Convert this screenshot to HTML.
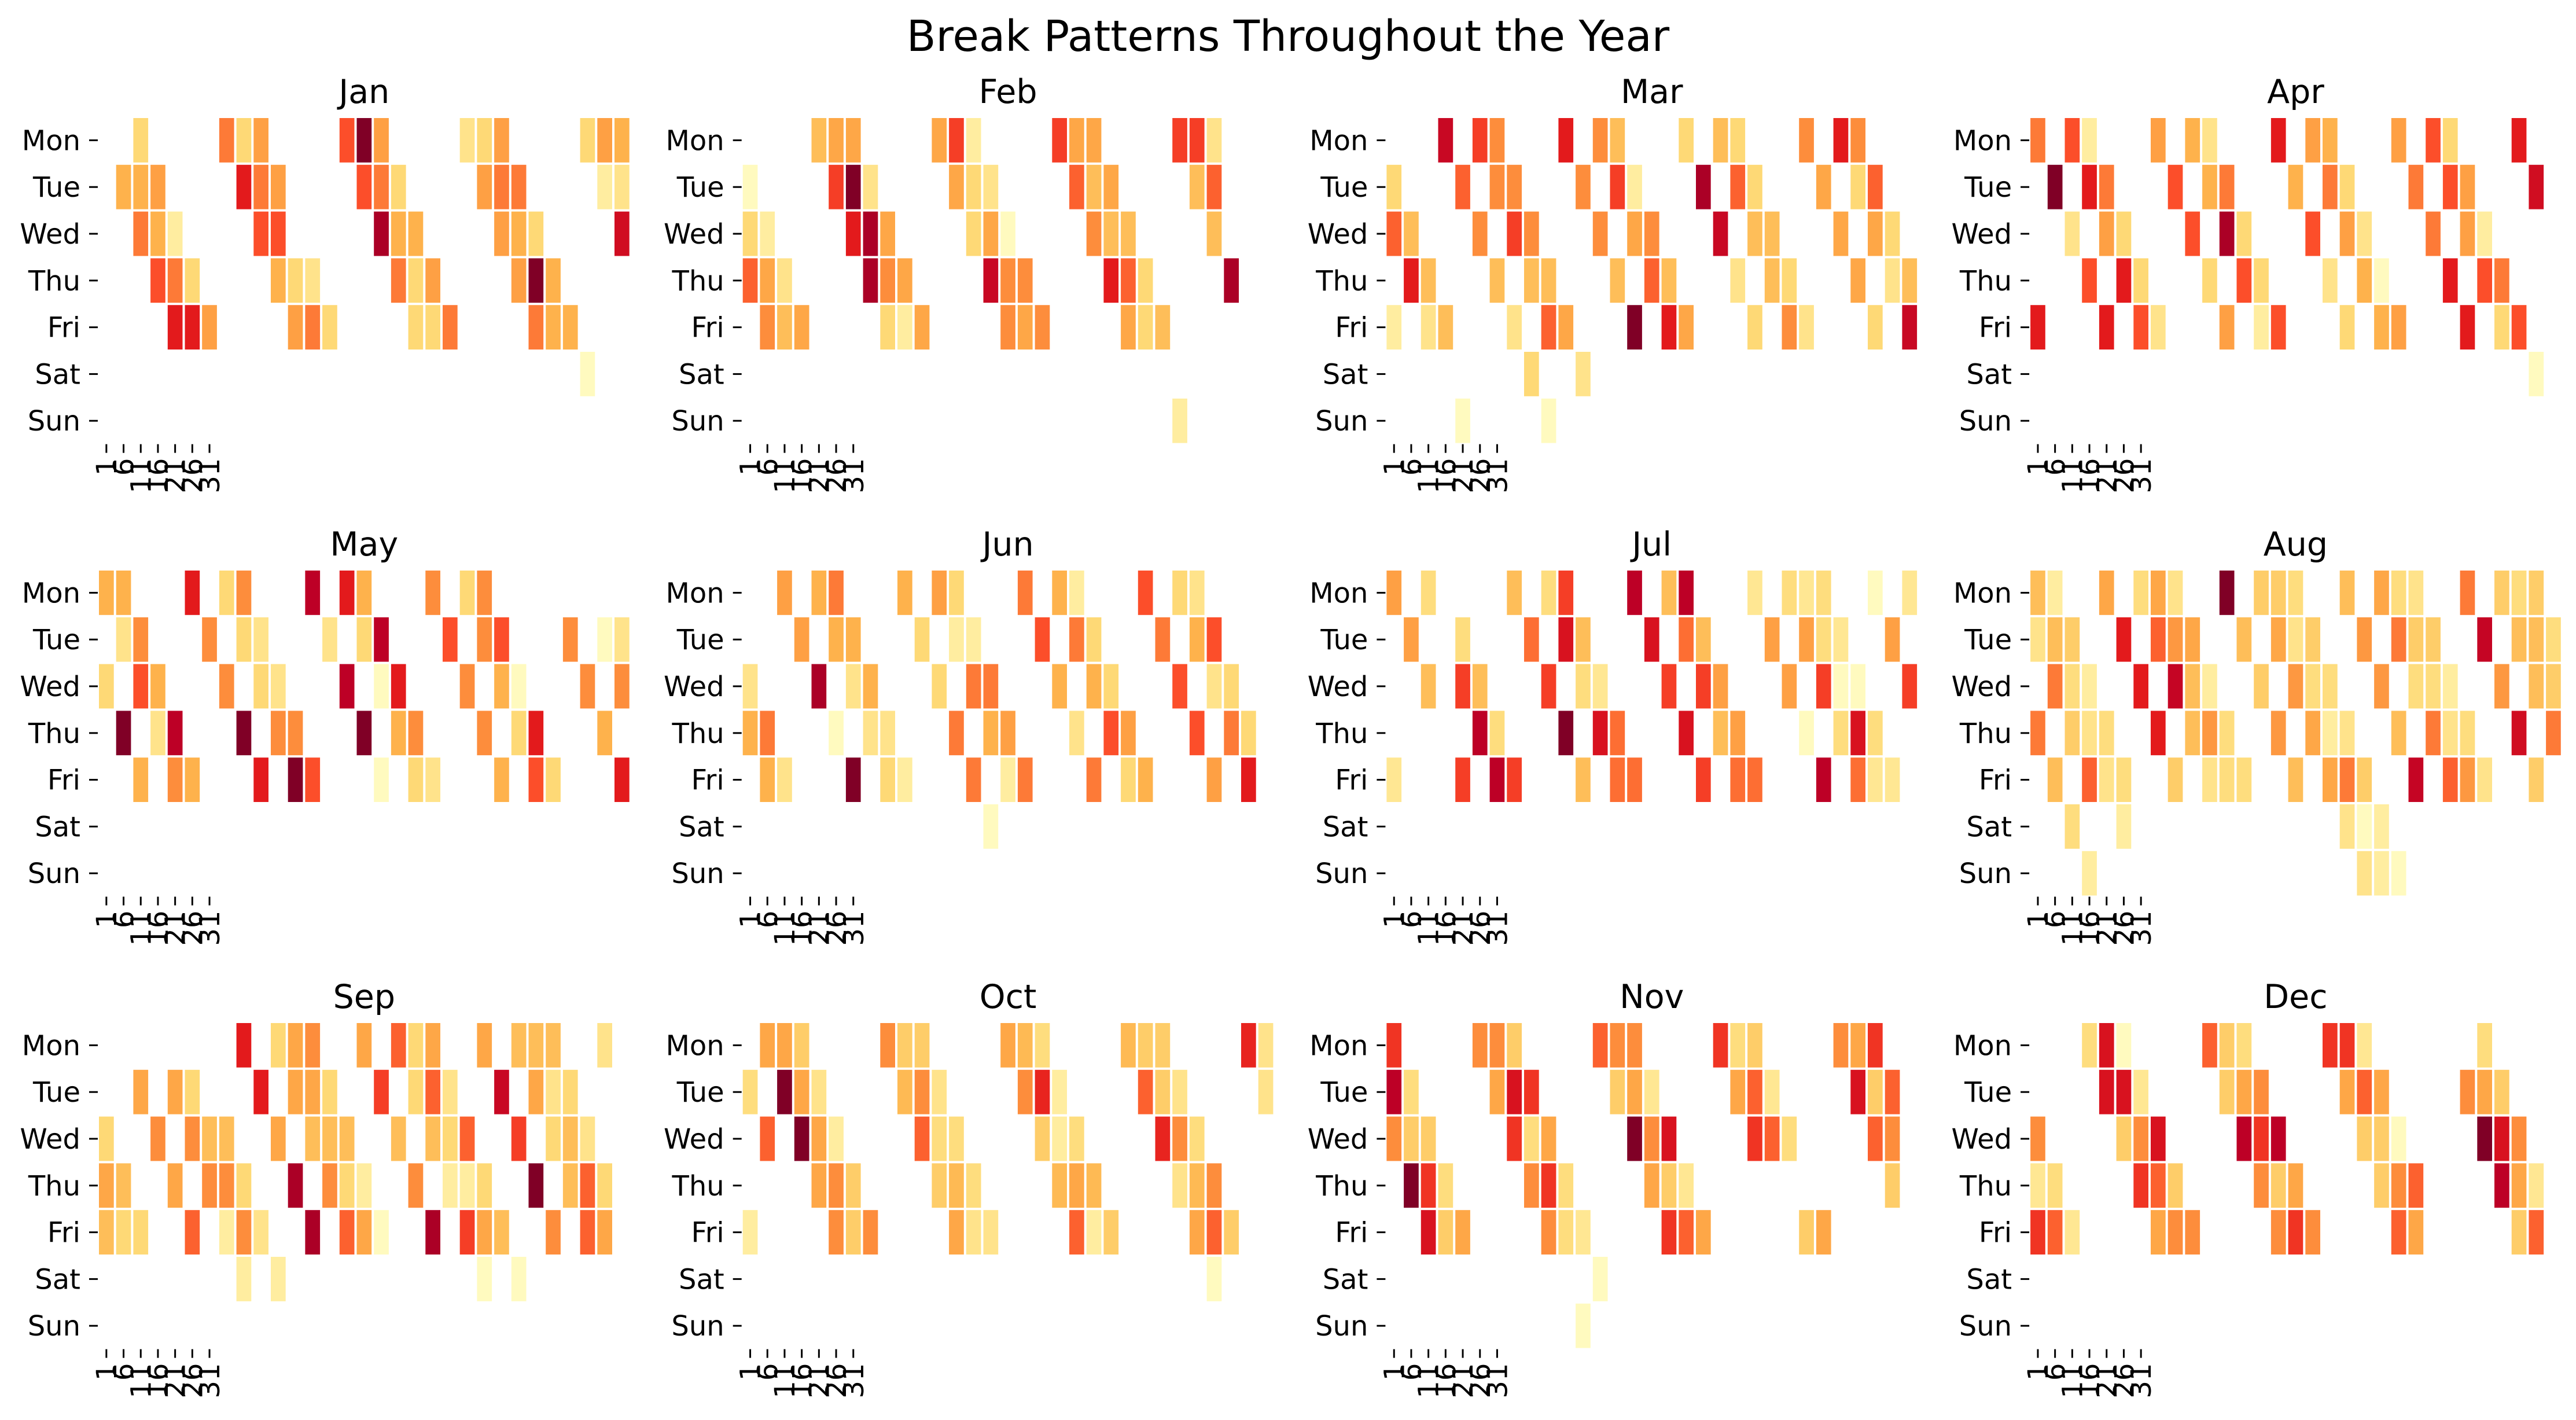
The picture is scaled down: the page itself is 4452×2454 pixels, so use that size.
<!DOCTYPE html>
<html>
<head>
<meta charset="utf-8">
<style>
  html, body { margin: 0; padding: 0; background: #ffffff; }
  svg { display: block; }
  text { font-family: "DejaVu Sans", "Liberation Sans", sans-serif; fill: #000; }
</style>
</head>
<body>
<svg id="chart" xmlns="http://www.w3.org/2000/svg" width="4452" height="2454" viewBox="0 0 4452 2454">
  <rect x="0" y="0" width="4452" height="2454" fill="#ffffff"></rect>
  <text x="2226" y="88" font-size="74" text-anchor="middle">Break Patterns Throughout the Year</text>
</svg>
<script>
// ---- data: per month, per weekday (Mon..Sun) list of [dayIndex(0-based), value 0..8] ----
const monthNames = ["Jan","Feb","Mar","Apr","May","Jun","Jul","Aug","Sep","Oct","Nov","Dec"];
const weekdays = ["Mon","Tue","Wed","Thu","Fri","Sat","Sun"];
const dayTickLabels = ["1","6","11","16","21","26","31"];

const jan = [
  [[2,2],[7,4.3],[8,2],[9,3.5],[14,5],[15,8],[16,3.5],[21,1.5],[22,2],[23,3.5],[28,2],[29,3.5],[30,3]],
  [[1,3],[2,3],[3,3.5],[8,6],[9,4.3],[10,3.5],[15,5],[16,4.3],[17,2],[22,3.5],[23,4.3],[24,4.3],[29,1],[30,1.5]],
  [[2,4.3],[3,3],[4,1],[9,5],[10,5],[16,7.3],[17,3],[18,3],[23,3.5],[24,3],[25,2],[30,6.5]],
  [[3,5],[4,4.3],[5,2],[10,3],[11,2],[12,1.5],[17,4.3],[18,2],[19,3.5],[24,3.5],[25,8],[26,3]],
  [[4,6],[5,6],[6,3.5],[11,3.5],[12,4.3],[13,2],[18,2],[19,2],[20,4.3],[25,4.3],[26,3],[27,3]],
  [[28,0.3]],
  []
];
const feb = [
  [[4,2.7],[5,3.3],[6,3.3],[11,3.3],[12,5.3],[13,1],[18,5.3],[19,3.3],[20,3.3],[25,5.3],[26,5.3],[27,1.5]],
  [[0,0.3],[5,5.3],[6,8],[7,1.5],[12,3.3],[13,2],[14,1.5],[19,4.7],[20,2.7],[21,3.3],[26,2.7],[27,4.7]],
  [[0,2],[1,1],[6,6],[7,7.3],[8,3.3],[13,2],[14,3.3],[15,0.3],[20,4],[21,2.7],[22,2.7],[27,2.7]],
  [[0,4.7],[1,3.3],[2,1.5],[7,7.3],[8,4],[9,3.3],[14,6.7],[15,4],[16,4],[21,6],[22,4.7],[23,2],[28,7.3]],
  [[1,4],[2,2.7],[3,3.3],[8,2],[9,1],[10,3.3],[15,4],[16,3.3],[17,4],[22,3.3],[23,2],[24,2.7]],
  [],
  [[25,1]]
];
const mar = [
  [[3,6.7],[5,5.3],[6,4],[10,6],[12,4],[13,2.7],[17,2],[19,2.7],[20,2],[24,4],[26,6],[27,4]],
  [[0,2],[4,4.7],[6,4],[7,4],[11,4],[13,5.3],[14,1],[18,7.3],[20,4.7],[21,2],[25,3.3],[27,2],[28,4.7]],
  [[0,4.7],[1,2.7],[5,4],[7,5.3],[8,4],[12,4],[14,3.3],[15,4],[19,6.7],[21,2.7],[22,2.7],[26,3.3],[28,3.3],[29,2]],
  [[1,6],[2,2.7],[6,2.7],[8,2.7],[9,2.7],[13,2.7],[15,4.7],[16,2.7],[20,1.5],[22,2.7],[23,2],[27,3.3],[29,1.5],[30,2.7]],
  [[0,1],[2,1.5],[3,2.7],[7,1.5],[9,4.7],[10,3.3],[14,8],[16,6],[17,3.3],[21,2],[23,4],[24,1.5],[28,2],[30,6.7]],
  [[8,2],[11,1.5]],
  [[4,0.3],[9,0.3]]
];
const apr = [
  [[0,4.3],[2,5],[3,1],[7,3.5],[9,3],[10,1.5],[14,6],[16,3.5],[17,3],[21,3.5],[23,5],[24,2],[28,6]],
  [[1,8],[3,6],[4,4.3],[8,5],[10,3],[11,4.3],[15,3],[17,4.3],[18,2],[22,4.3],[24,5],[25,3.5],[29,6.5]],
  [[2,1.5],[4,3.5],[5,2],[9,5],[11,7.3],[12,2],[16,5],[18,3.5],[19,1.5],[23,4.3],[25,3.5],[26,1]],
  [[3,5],[5,6],[6,2],[10,2],[12,5],[13,2],[17,1.5],[19,3],[20,0.3],[24,6],[26,5],[27,4.3]],
  [[0,6],[4,6],[6,5],[7,1.5],[11,3.5],[13,1],[14,5],[18,2],[20,3],[21,3.5],[25,6],[27,2],[28,5]],
  [[29,0.3]],
  []
];
const may = [
  [[0,3],[1,3],[5,6],[7,2],[8,4],[12,7],[14,6],[15,3],[19,4],[21,2],[22,4]],
  [[1,1.5],[2,4],[6,4],[8,2],[9,1.5],[13,1.5],[15,2],[16,7],[20,5],[22,4],[23,5],[27,4],[29,0.3],[30,1.5]],
  [[0,2],[2,5],[3,3],[7,4],[9,2],[10,1.5],[14,7],[16,0.3],[17,6],[21,4],[23,3],[24,0.3],[28,4],[30,4]],
  [[1,8],[3,1.5],[4,7],[8,8],[10,4],[11,4],[15,8],[17,3],[18,4],[22,4],[24,2],[25,6],[29,3]],
  [[2,3],[4,4],[5,3],[9,6],[11,8],[12,5],[16,0.3],[18,2],[19,1.5],[23,3],[25,5],[26,2],[30,6]],
  [],
  []
];
const jun = [
  [[2,3.5],[4,3],[5,4.3],[9,3],[11,3.5],[12,2],[16,4.3],[18,3],[19,1],[23,5],[25,2],[26,1.5]],
  [[3,3.5],[5,3],[6,3],[10,2],[12,1],[13,1],[17,5],[19,4.3],[20,2],[24,4.3],[26,3],[27,5]],
  [[0,1.5],[4,7.3],[6,1.5],[7,3],[11,2],[13,4.3],[14,4.3],[18,3],[20,3],[21,2],[25,5],[27,1.5],[28,2]],
  [[0,3],[1,4.3],[5,0.3],[7,1.5],[8,1.5],[12,4.3],[14,3],[15,3.5],[19,1.5],[21,5],[22,3.5],[26,5],[28,4.3],[29,2]],
  [[1,3],[2,1.5],[6,8],[8,2],[9,1],[13,4.3],[15,1],[16,4.3],[20,4.3],[22,2],[23,3],[27,3.5],[29,6]],
  [[14,0.3]],
  []
];
const jul = [
  [[0,3.5],[2,1.8],[7,2.7],[9,1.8],[10,5.3],[14,7],[16,2.7],[17,7],[21,1.3],[23,1.8],[24,1.3],[25,1.8],[28,0.3],[30,1.3]],
  [[1,3.5],[4,1.8],[8,4.5],[10,6.3],[11,2.7],[15,6.3],[17,4.5],[18,2.7],[22,3.5],[24,3.5],[25,1.8],[26,1.3],[29,3.5]],
  [[2,2.7],[4,5.3],[5,2.7],[9,5.3],[11,1.8],[12,1.3],[16,5.3],[18,5.3],[19,3.5],[23,3.5],[25,5.3],[26,0.3],[27,0.3],[30,5.3]],
  [[5,7],[6,1.8],[10,8],[12,6.3],[13,4.5],[17,6.3],[19,2.7],[20,3.5],[24,0.3],[26,1.8],[27,6.3],[28,1.8]],
  [[0,1.3],[4,5.3],[6,7],[7,5.3],[11,2.7],[13,4.5],[14,4.5],[18,5.3],[20,4.5],[21,4.5],[25,7],[27,4.5],[28,1.3],[29,1.3]],
  [],
  []
];
const aug = [
  [[0,2.7],[1,1],[4,3.3],[6,1.8],[7,3.3],[8,1.5],[11,8],[13,2.3],[14,2.3],[15,1.8],[18,2.7],[20,3.3],[21,1.8],[22,1.5],[25,4.3],[27,2.3],[28,1.8],[29,2.3]],
  [[0,1.5],[1,2.7],[2,2.3],[5,6],[7,4.7],[8,3.7],[9,3.3],[12,2.7],[14,3.3],[15,1.5],[16,2.3],[19,3.7],[21,4.3],[22,2.3],[23,2.3],[26,6.8],[28,2.7],[29,2.7],[30,1.8]],
  [[1,4.3],[2,1.8],[3,1],[6,6],[8,6.8],[9,2.7],[10,1],[13,2.3],[15,3.7],[16,1.8],[17,1.8],[20,3.7],[22,1.8],[23,1.8],[24,1],[27,3.7],[29,2.7],[30,2.3]],
  [[0,4.3],[2,2.3],[3,1.5],[4,1.8],[7,6],[9,2.7],[10,3.7],[11,1.8],[14,3.7],[16,3.3],[17,1],[18,1.5],[21,2.7],[23,4.3],[24,1.5],[25,1.8],[28,6.5],[30,4.3]],
  [[1,2.7],[3,4.7],[4,1.5],[5,1.8],[8,2.3],[10,1.5],[11,1.8],[12,1.8],[15,2.7],[17,3.3],[18,4.3],[19,2.3],[22,6.8],[24,4.7],[25,3.7],[26,1.5],[29,2.3]],
  [[2,1.8],[5,1],[18,1.5],[19,0.3],[20,1]],
  [[3,1],[19,1.5],[20,1],[21,0.3]]
];
const sep = [
  [[8,6],[10,2],[11,3.3],[12,4],[15,3.3],[17,4.7],[18,2],[19,3.3],[22,3.3],[24,2.7],[25,2.7],[26,2.7],[29,1.5]],
  [[2,3.3],[4,3.3],[5,2],[9,6],[11,3.3],[12,3.3],[13,2],[16,5.3],[18,2],[19,4.7],[20,1.5],[23,6.7],[25,3.3],[26,1.5],[27,2]],
  [[0,2],[3,4],[5,4],[6,2.7],[7,2.7],[10,3.3],[12,2.7],[13,2.7],[14,2.7],[17,2.7],[19,2.7],[20,2],[21,4.7],[24,5.3],[26,2],[27,2.7],[28,1.5]],
  [[0,3.3],[1,2.7],[4,3.3],[6,4],[7,4],[8,2],[11,7.3],[13,4],[14,2],[15,1],[18,4],[20,1],[21,1],[22,2],[25,8],[27,2.7],[28,4.7],[29,2]],
  [[0,2.7],[1,2],[2,2],[5,4.7],[7,1],[8,4],[9,1.5],[12,7.3],[14,4.7],[15,3.3],[16,0.3],[19,7.3],[21,5.3],[22,3.3],[23,2.7],[26,4],[28,4.7],[29,3.3]],
  [[8,1],[10,1],[22,0.3],[24,0.3]],
  []
];
const oct = [
  [[1,3.3],[2,3.3],[3,2.3],[8,4],[9,2.3],[10,2.3],[15,3.3],[16,2.8],[17,1.8],[22,2.8],[23,2.3],[24,2.3],[29,5.8],[30,1.5]],
  [[0,1.8],[2,8],[3,3.3],[4,1.5],[9,2.8],[10,4],[11,1.5],[16,4],[17,5.8],[18,1],[23,4.7],[24,2.3],[25,1.5],[30,1.5]],
  [[1,4.7],[3,8],[4,3.3],[5,1],[10,4.7],[11,1.8],[12,1.8],[17,2.3],[18,1],[19,1.8],[24,5.8],[25,4],[26,1.8]],
  [[4,3.3],[5,4],[6,2.3],[11,2.3],[12,2.8],[13,1.8],[18,2.8],[19,3.3],[20,2.8],[25,1.5],[26,2.8],[27,4]],
  [[0,1],[5,4],[6,2.3],[7,4],[12,3.3],[13,1.5],[14,1.5],[19,4.7],[20,1],[21,2.3],[26,3.3],[27,4.7],[28,2.3]],
  [[27,0.3]],
  []
];
const nov = [
  [[0,5.5],[5,4],[6,4],[7,2.3],[12,4.7],[13,4],[14,4],[19,5.5],[20,1.8],[21,2.3],[26,4],[27,3.3],[28,5.5]],
  [[0,7],[1,1.8],[6,3.3],[7,6.3],[8,5.5],[13,2.3],[14,3.3],[15,1.3],[20,3.3],[21,4.7],[22,1.3],[27,6.3],[28,2.3],[29,4.7]],
  [[0,4],[1,2.3],[2,2.3],[7,5.5],[8,1.8],[9,3.3],[14,8],[15,4],[16,6.3],[21,5.5],[22,4.7],[23,1.8],[28,4.7],[29,4]],
  [[1,8],[2,5.5],[3,1.8],[8,4],[9,5.5],[10,1.8],[15,3.3],[16,2.3],[17,1.3],[29,2.3]],
  [[2,6.3],[3,2.3],[4,3.3],[9,4],[10,1.8],[11,1.3],[16,5.5],[17,4.7],[18,3.3],[24,2.3],[25,3.3]],
  [[12,0.3]],
  [[11,0.3]]
];
const dec = [
  [[3,1.8],[4,6.3],[5,0.3],[10,4.7],[11,2.3],[12,1.8],[17,5.5],[18,5.5],[19,1.3],[26,1.8]],
  [[4,6.3],[5,6.3],[6,1.3],[11,2.3],[12,3.3],[13,4],[18,3.3],[19,4.7],[20,3.3],[25,4],[26,3.3],[27,2.3]],
  [[0,4],[5,2.3],[6,4],[7,6.3],[12,7],[13,5.5],[14,7],[19,2.3],[20,2.3],[21,0.3],[26,8],[27,6.3],[28,4]],
  [[0,1.3],[1,1.8],[6,5.5],[7,4.7],[8,2.3],[13,4],[14,2.3],[15,3.3],[20,2.3],[21,4],[22,4.7],[27,7],[28,3.3],[29,1.3]],
  [[0,5.5],[1,4.7],[2,1.3],[7,3.3],[8,4],[9,4],[14,4],[15,5.5],[16,4],[21,4.7],[22,3.3],[28,2.3],[29,4.7]],
  [],
  []
];
const monthData = [jan, feb, mar, apr, may, jun, jul, aug, sep, oct, nov, dec];
const valueMax = 8;

// ---- layout ----
const NS = "http://www.w3.org/2000/svg";
const svg = document.getElementById("chart");
const PANEL_X0 = 169, PANEL_DX = 1112.7, PANEL_Y0 = 202, PANEL_DY = 782;
const CELL_W = 29.7, CELL_H = 80.8, NCOLS = 31;
const stops = ["#ffffcc","#ffeda0","#fed976","#feb24c","#fd8d3c","#fc4e2a","#e31a1c","#bd0026","#800026"];

function hexToRgb(h){ return [parseInt(h.substr(1,2),16),parseInt(h.substr(3,2),16),parseInt(h.substr(5,2),16)]; }
function colorScale(v){
  let t = Math.max(0, Math.min(1, v / valueMax)) * (stops.length - 1);
  let i = Math.min(stops.length - 2, Math.floor(t)), f = t - i;
  let a = hexToRgb(stops[i]), b = hexToRgb(stops[i+1]);
  return "rgb(" + a.map((c,k)=>Math.round(c + (b[k]-c)*f)).join(",") + ")";
}
function xScale(px0, col){ return px0 + col * CELL_W; }
function yScale(py0, row){ return py0 + row * CELL_H; }
function mk(tag, attrs){ const e = document.createElementNS(NS, tag); for (const k in attrs) e.setAttribute(k, attrs[k]); return e; }

monthNames.forEach((mName, m) => {
  const px0 = PANEL_X0 + (m % 4) * PANEL_DX;
  const py0 = PANEL_Y0 + Math.floor(m / 4) * PANEL_DY;
  const g = mk("g", {});
  
  
  svg.appendChild(g);

  const title = mk("text", {x: px0 + NCOLS * CELL_W / 2, y: py0 - 24, "font-size": 57, "text-anchor": "middle"});
  title.textContent = mName;
  
  
  g.appendChild(title);

  weekdays.forEach((wd, r) => {
    const cy = yScale(py0, r) + CELL_H / 2;
    const lab = mk("text", {x: px0 - 30, y: cy + 17, "font-size": 48, "text-anchor": "end"});
    lab.textContent = wd;
    
    
    g.appendChild(lab);
    const tk = mk("line", {x1: px0 - 15, x2: px0, y1: cy, y2: cy, stroke: "#000", "stroke-width": 3});
    
    
    g.appendChild(tk);

    monthData[m][r].forEach(([col, val]) => {
      const rc = mk("rect", {
        x: xScale(px0, col) + 2, y: yScale(py0, r) + 2,
        width: CELL_W - 4, height: CELL_H - 4, fill: colorScale(val)
      });
      
      
      g.appendChild(rc);
    });
  });

  const yb = yScale(py0, 7);
  dayTickLabels.forEach((lbl, i) => {
    const tx = xScale(px0, i) + CELL_W / 2;
    const tk = mk("line", {x1: tx, x2: tx, y1: yb, y2: yb + 15, stroke: "#000", "stroke-width": 3});
    
    
    g.appendChild(tk);
    const t = mk("text", {x: 0, y: 0, "font-size": 48, "text-anchor": "end",
      transform: "translate(" + (tx + 17) + "," + (yb + 24) + ") rotate(-90)"});
    t.textContent = lbl;
    
    
    g.appendChild(t);
  });
});
</script>
</body>
</html>
